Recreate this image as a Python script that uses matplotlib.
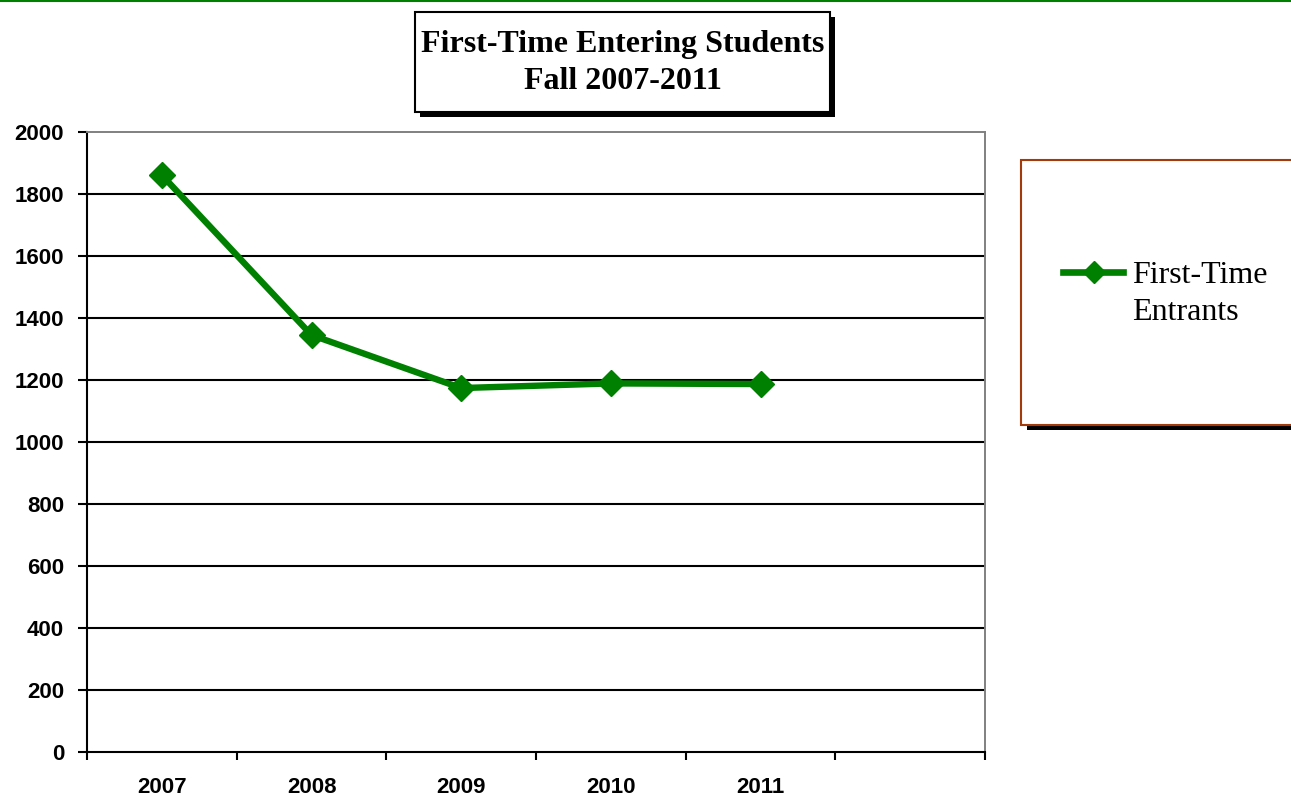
import numpy as np
import matplotlib.pyplot as plt
from matplotlib.patches import Rectangle
from matplotlib.lines import Line2D

W, H = 1291, 799

years = ['2007', '2008', '2009', '2010', '2011']
entrants = [1861, 1345, 1174, 1189, 1187]
series_name = 'First-Time\nEntrants'
title = 'First-Time Entering Students\nFall 2007-2011'
yticks = list(range(0, 2001, 200))

GREEN = '#008000'


def px_rect(x0, y0, x1, y1, **kw):
    # rectangle given in image pixels (origin top-left)
    return Rectangle((x0 / W, 1 - y1 / H), (x1 - x0) / W, (y1 - y0) / H,
                     transform=fig.transFigure, **kw)


fig = plt.figure(figsize=(W / 100, H / 100), dpi=100)
ax = fig.add_axes([87 / W, 1 - 752 / H, (985 - 87) / W, (752 - 132) / H])

x = np.arange(len(years)) + 0.5
ax.plot(x, entrants, color=GREEN, lw=4.6, marker='D', ms=13.5,
        markeredgecolor=GREEN, zorder=5)

ax.set_xlim(0, 6)
ax.set_ylim(0, 2000)
ax.set_yticks(yticks)
ax.hlines(yticks[1:-1], 0, 6, colors='black', lw=1.5, zorder=1)

ax.set_xticks(range(7))
ax.set_xticklabels([])
ax.set_xticks(x, minor=True)
ax.set_xticklabels(years, minor=True)
ax.tick_params(axis='x', which='major', direction='out', length=6, width=1.5)
ax.tick_params(axis='x', which='minor', length=0, pad=18)
ax.tick_params(axis='y', direction='out', length=6.5, width=1.5, pad=10)
for lab in ax.get_xticklabels(minor=True) + ax.get_yticklabels():
    lab.set_fontfamily('Liberation Sans')
    lab.set_fontweight('bold')
    lab.set_fontsize(16)

ax.spines['left'].set_linewidth(1.5)
ax.spines['bottom'].set_linewidth(1.5)
ax.spines['top'].set_color('#808080')
ax.spines['right'].set_color('#808080')
ax.spines['top'].set_linewidth(1.4)
ax.spines['right'].set_linewidth(1.4)

# green rule at very top
fig.add_artist(Line2D([0, 1], [1 - 1 / H, 1 - 1 / H], transform=fig.transFigure,
                      color=GREEN, lw=1.5))

# title box with shadow
fig.add_artist(px_rect(420, 17, 835, 117, facecolor='black', edgecolor='none'))
fig.add_artist(px_rect(415, 12, 830, 112, facecolor='white', edgecolor='black', lw=1.5))
fig.text(623 / W, 1 - 63 / H, title, ha='center', va='center',
         family='Liberation Serif', weight='bold', fontsize=23, linespacing=1.4)

# legend box with shadow
fig.add_artist(px_rect(1027, 166, 1300, 430, facecolor='black', edgecolor='none'))
fig.add_artist(px_rect(1021, 160, 1300, 425, facecolor='white', edgecolor='#A33A0B', lw=1.5))
fig.add_artist(Line2D([1063 / W, 1123 / W], [1 - 272 / H, 1 - 272 / H],
                      transform=fig.transFigure, color=GREEN, lw=4.8))
fig.add_artist(Line2D([1094 / W], [1 - 272 / H], transform=fig.transFigure,
                      color=GREEN, marker='D', ms=11, markeredgecolor=GREEN))
fig.text(1132 / W, 1 - 294 / H, series_name, ha='left', va='center',
         family='Liberation Serif', fontsize=23, linespacing=1.32)

fig.savefig('out.png', dpi=100)
